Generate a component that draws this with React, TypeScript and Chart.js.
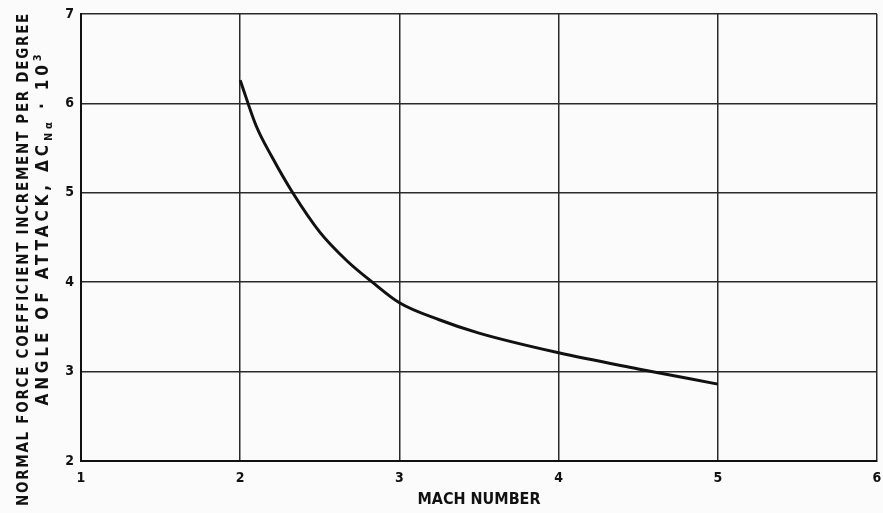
import React, { useEffect, useRef } from "react";
import { Chart, registerables } from "chart.js";

Chart.register(...registerables);

const machNumbers = [2.0, 2.1, 2.2, 2.33, 2.5, 2.67, 2.83, 3.0, 3.25, 3.5, 4.0, 4.5, 5.0];
const cnAlpha = [6.26, 5.75, 5.4, 5.0, 4.56, 4.24, 4.0, 3.77, 3.58, 3.43, 3.21, 3.03, 2.86];
const xTicks = [1, 2, 3, 4, 5, 6];
const yTicks = [2, 3, 4, 5, 6, 7];
const xTitle = "MACH NUMBER";
const yTitleLine1 = "NORMAL FORCE COEFFICIENT INCREMENT PER DEGREE";
const yTitleLine2 = ["ANGLE OF ATTACK, ΔC", "Nα", " · 10", "3"];

const FONT = "'DejaVu Sans Condensed', 'DejaVu Sans', sans-serif";

const bgPlugin = {
  id: "bg",
  beforeDraw(chart: any) {
    const ctx = chart.ctx;
    ctx.save();
    ctx.fillStyle = "#fbfbfb";
    ctx.fillRect(0, 0, chart.width, chart.height);
    ctx.restore();
  },
};

function fitSpacing(ctx: any, segs: any[], target: number) {
  ctx.save();
  ctx.letterSpacing = "0px";
  let raw = 0;
  let n = 0;
  segs.forEach((s) => {
    ctx.font = s.f;
    raw += ctx.measureText(s.t).width;
    n += [...s.t].length;
  });
  ctx.restore();
  return Math.max(0, (target - raw) / n);
}

function drawSegments(ctx: any, segs: any[], cx: number, cy: number, sp: number) {
  ctx.save();
  ctx.translate(cx, cy);
  ctx.rotate(-Math.PI / 2);
  ctx.textBaseline = "middle";
  ctx.textAlign = "left";
  ctx.fillStyle = "#111";
  ctx.letterSpacing = `${sp}px`;
  let total = 0;
  segs.forEach((s) => {
    ctx.font = s.f;
    total += ctx.measureText(s.t).width;
  });
  let x = -total / 2;
  segs.forEach((s) => {
    ctx.font = s.f;
    ctx.fillText(s.t, x, s.dy);
    x += ctx.measureText(s.t).width;
  });
  ctx.restore();
}

const yTitlePlugin = {
  id: "yTitle",
  afterDraw(chart: any) {
    const ctx = chart.ctx;
    const f1 = `bold 15px ${FONT}`;
    const seg1 = [{ t: yTitleLine1, f: f1, dy: 0 }];
    drawSegments(ctx, seg1, 24, 259, fitSpacing(ctx, seg1, 494));
    const f2 = `bold 17px ${FONT}`;
    const fs = `bold 11px ${FONT}`;
    const seg2 = [
      { t: yTitleLine2[0], f: f2, dy: 0 },
      { t: yTitleLine2[1], f: fs, dy: 5 },
      { t: yTitleLine2[2], f: f2, dy: 0 },
      { t: yTitleLine2[3], f: fs, dy: -6 },
    ];
    drawSegments(ctx, seg2, 44, 228, fitSpacing(ctx, seg2, 355));
  },
};

export default function App() {
  const ref = useRef<HTMLCanvasElement | null>(null);
  useEffect(() => {
    if (!ref.current) return;
    const chart = new Chart(ref.current, {
      type: "line",
      data: {
        datasets: [
          {
            data: machNumbers.map((m, i) => ({ x: m, y: cnAlpha[i] })),
            borderColor: "#111",
            borderWidth: 3,
            pointRadius: 0,
            fill: false,
            cubicInterpolationMode: "monotone",
          },
        ],
      },
      options: {
        responsive: false,
        animation: false,
        layout: { autoPadding: false, padding: { left: 52, top: 14, right: 6, bottom: 0 } },
        plugins: { legend: { display: false }, tooltip: { enabled: false } },
        scales: {
          x: {
            type: "linear",
            min: xTicks[0],
            max: xTicks[xTicks.length - 1],
            afterBuildTicks: (s: any) => {
              s.ticks = xTicks.map((v) => ({ value: v }));
            },
            afterFit: (s: any) => {
              s.height = 52;
            },
            grid: {
              color: "#2a2a2a",
              lineWidth: 1.5,
              drawTicks: true,
              tickLength: 8,
              tickColor: "rgba(0,0,0,0)",
            },
            border: { color: "#111", width: 2 },
            ticks: {
              padding: 1,
              color: "#111",
              font: { family: FONT, size: 14, weight: "bold" },
              maxRotation: 0,
            },
            title: {
              display: true,
              text: xTitle,
              color: "#111",
              font: { family: FONT, size: 16, weight: "bold" },
              padding: { top: 0, bottom: 4 },
            },
          },
          y: {
            type: "linear",
            min: yTicks[0],
            max: yTicks[yTicks.length - 1],
            afterBuildTicks: (s: any) => {
              s.ticks = yTicks.map((v) => ({ value: v }));
            },
            afterFit: (s: any) => {
              s.width = 29;
            },
            grid: {
              color: "#2a2a2a",
              lineWidth: 1.5,
              drawTicks: true,
              tickLength: 6,
              tickColor: "rgba(0,0,0,0)",
            },
            border: { color: "#111", width: 2 },
            ticks: {
              padding: 1,
              color: "#111",
              font: { family: FONT, size: 14, weight: "bold" },
            },
          },
        },
      },
      plugins: [bgPlugin, yTitlePlugin],
    } as any);
    return () => chart.destroy();
  }, []);
  return (
    <div style={{ position: "absolute", left: 0, top: 0, width: 883, height: 513 }}>
      <canvas ref={ref} width={883} height={513} />
    </div>
  );
}
